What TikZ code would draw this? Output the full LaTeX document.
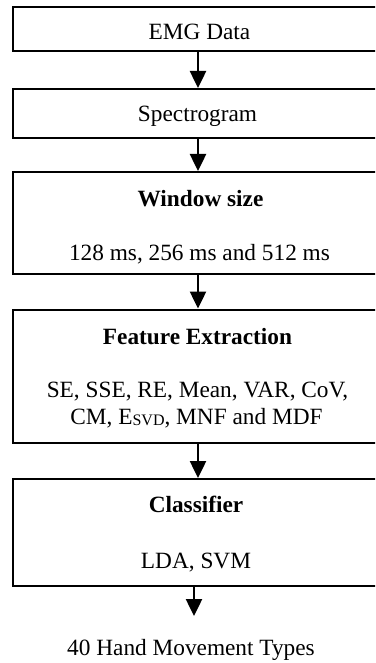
\documentclass[tikz,border=0pt]{standalone}
\usepackage{fontspec}
\setmainfont{Liberation Serif}
\usetikzlibrary{arrows.meta}
\begin{document}
\begin{tikzpicture}[x=1pt,y=-1pt,
  box/.style={draw=black, line width=2pt, minimum width=370pt, inner sep=0pt, fill=white},
  txt/.style={anchor=base, inner sep=0pt, font=\fontsize{23.3}{26}\selectfont},
  btxt/.style={anchor=base, inner sep=0pt, font=\fontsize{23.3}{26}\selectfont\bfseries},
  arr/.style={line width=2.5pt, -{Triangle[length=17pt,width=16pt]}}]
\useasboundingbox (0,0) rectangle (375,663);
\clip (0,0) rectangle (375,663);
\fill[white] (0,0) rectangle (375,663);
% boxes
\node[box, minimum height=44pt]  (b1) at (198,29.5) {};
\node[box, minimum height=49pt]  (b2) at (198,113.5) {};
\node[box, minimum height=102pt] (b3) at (198,223) {};
\node[box, minimum height=133pt] (b4) at (198,376) {};
\node[box, minimum height=107pt] (b5) at (198,532.5) {};
% texts
\node[txt]  (t1)  at (199.5,39.5) {EMG Data};
\node[txt]  (t2)  at (197.5,122) {Spectrogram};
\node[btxt] (t3a) at (200.5,206) {Window size};
\node[txt]  (t3b) at (199.5,260) {128 ms, 256 ms and 512 ms};
\node[btxt] (t4a) at (197.5,344) {Feature Extraction};
\node[txt]  (t4b) at (197.5,397) {SE, SSE, RE, Mean, VAR, CoV,};
\node[txt]  (t4c) at (196.5,424) {CM, E{\fontsize{16}{16}\selectfont\raisebox{-1pt}{SVD}}, MNF and MDF};
\node[btxt] (t5a) at (196,512)   {Classifier};
\node[txt]  (t5b) at (196,568)   {LDA, SVM};
\node[txt]  (out) at (191,655)   {40 Hand Movement Types};
\coordinate (tip) at (194,616);
% connectors
\draw[arr] (b1.south) -- (b2.north);
\draw[arr] (b2.south) -- (b3.north);
\draw[arr] (b3.south) -- (b4.north);
\draw[arr] (b4.south) -- (b5.north);
\draw[arr] (b5.south -| tip) -- (tip);
\end{tikzpicture}
\end{document}
